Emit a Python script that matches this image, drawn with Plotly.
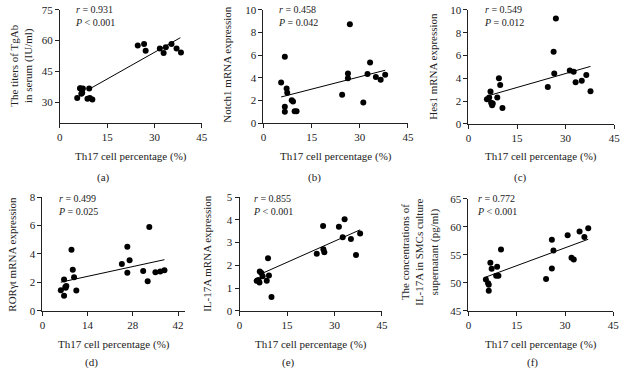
import plotly.graph_objects as go

# ---------------- data ----------------
xa = [5.5, 6.5, 7.3, 6.8, 7.1, 9.3, 8.75, 9.5, 10.3, 6.4, 24.7, 26.7, 27.2, 31.7, 32.9, 33.6, 35.4, 37.0, 38.4]
ya = [32.0, 36.6, 36.6, 34.1, 34.6, 36.6, 31.6, 32.0, 31.3, 36.8, 57.6, 58.4, 55.0, 56.2, 54.0, 56.7, 58.3, 56.2, 54.2]

xb = [5.5, 6.65, 7.2, 7.4, 6.65, 6.65, 8.8, 9.2, 9.7, 10.3, 24.5, 26.3, 26.3, 26.9, 31.1, 32.4, 33.2, 35.0, 36.5, 37.9]
yb = [3.59, 5.87, 3.05, 2.68, 1.45, 1.0, 2.02, 1.91, 1.05, 1.05, 2.5, 4.39, 3.96, 8.72, 1.82, 4.33, 5.36, 4.07, 3.82, 4.27]

xc = [5.7, 6.4, 6.8, 7.0, 7.3, 7.5, 8.9, 9.4, 9.8, 10.5, 24.5, 26.3, 26.5, 27.0, 31.3, 32.5, 33.1, 35.0, 36.4, 37.7]
yc = [2.15, 2.32, 2.83, 1.84, 1.64, 1.78, 2.32, 3.99, 3.40, 1.39, 3.23, 6.32, 4.42, 9.24, 4.67, 4.56, 3.65, 3.77, 4.28, 2.86]

xd = [5.7, 6.7, 6.7, 7.1, 7.4, 7.2, 9.0, 9.4, 9.8, 10.5, 24.6, 26.3, 26.3, 27.0, 31.2, 32.6, 33.1, 35.0, 36.5, 37.8]
yd = [1.45, 1.07, 2.2, 1.68, 1.75, 1.62, 4.29, 2.9, 2.36, 1.43, 3.29, 4.51, 2.68, 3.56, 2.81, 2.09, 5.9, 2.72, 2.77, 2.86]

xe = [5.4, 6.0, 6.3, 6.4, 6.9, 7.3, 8.6, 9.0, 9.3, 10.1, 24.4, 26.4, 26.5, 26.8, 31.4, 32.6, 33.2, 35.2, 36.8, 38.1]
ye = [1.32, 1.36, 1.25, 1.73, 1.67, 1.52, 1.32, 2.31, 1.56, 0.61, 2.51, 3.73, 2.71, 2.58, 3.70, 3.23, 4.02, 3.16, 2.46, 3.40]

xf = [5.4, 6.1, 6.3, 6.3, 6.8, 7.2, 8.6, 8.9, 9.3, 10.1, 24.1, 25.9, 25.9, 26.4, 30.8, 32.0, 32.7, 34.5, 36.0, 37.2]
yf = [50.6, 49.96, 49.7, 48.6, 53.6, 52.55, 51.3, 52.9, 51.3, 55.95, 50.7, 57.7, 52.6, 55.8, 58.5, 54.5, 54.2, 59.2, 58.2, 59.75]

# regression line end points
fit_xa, fit_ya = [9.3, 38.2], [36.3, 61.4]
fit_xb, fit_yb = [5.5, 37.9], [2.31, 4.67]
fit_xc, fit_yc = [6.4, 37.7], [2.49, 5.04]
fit_xd, fit_yd = [5.7, 37.8], [2.02, 3.60]
fit_xe, fit_ye = [6.2, 38.1], [1.59, 3.56]
fit_xf, fit_yf = [5.4, 37.2], [51.05, 57.8]

r_text = ["0.931", "0.458", "0.549", "0.499", "0.855", "0.772"]
p_text = ["&lt; 0.001", "= 0.042", "= 0.012", "= 0.025", "&lt; 0.001", "&lt; 0.001"]
y_titles = [
    "The titers of TgAb<br>in serum (IU/ml)",
    "Notch1 mRNA expression",
    "Hes1 mRNA expression",
    "RORγt mRNA expression",
    "IL-17A mRNA expression",
    "The concentrations of<br>IL-17A in SMCs culture<br>supernatant (pg/ml)",
]
panel_labels = ["(a)", "(b)", "(c)", "(d)", "(e)", "(f)"]
x_title = "Th17 cell percentage (%)"

x_ticks = [[0, 15, 30, 45]] * 3 + [[0, 14, 28, 42], [0, 15, 30, 45], [0, 15, 30, 45]]
y_ticks = [[30, 45, 60, 75], [0, 2, 4, 6, 8, 10], [0, 2, 4, 6, 8, 10],
           [0, 2, 4, 6, 8], [0, 1, 2, 3, 4, 5], [45, 50, 55, 60, 65]]
x_ranges = [[0, 45], [0, 45], [0, 45], [0, 44.2], [0, 45], [0, 45]]
y_ranges = [[20, 75], [0, 10], [0, 10], [0, 8], [0, 5], [45, 65]]

# ---------------- layout geometry (pixels) ----------------
W, H = 623, 376
# plot area boxes: left, right, top, bottom in px
boxes = [
    (57.7, 201.7, 4, 120.4),
    (264.3, 410.9, 4, 121),
    (472.3, 620.1, 4, 121.7),
    (40, 184.8, 197.3, 315),
    (240, 384.5, 197.3, 315),
    (472.3, 619.3, 199.3, 315),
]
ytitle_pos = [(18, 62), (227, 60), (436, 62), (9, 256), (207, 256), (423, 254)]
label_pos = [(102, 177), (316, 177), (525, 177), (90, 368), (290, 368), (537, 368)]
stat_x = [72, 278, 487, 55, 253, 480]
stat_y = [10.5, 10.5, 10.5, 205.5, 205.5, 206]
xtitle_y = [155, 155, 155, 350, 350, 350]

FONT = "Liberation Serif"
xs = [xa, xb, xc, xd, xe, xf]
ys = [ya, yb, yc, yd, ye, yf]
fxs = [fit_xa, fit_xb, fit_xc, fit_xd, fit_xe, fit_xf]
fys = [fit_ya, fit_yb, fit_yc, fit_yd, fit_ye, fit_yf]


def px(x):
    return x / W


def py(y):
    return 1 - y / H


fig = go.Figure()
layout = dict(
    width=W, height=H, margin=dict(l=0, r=0, t=0, b=0),
    paper_bgcolor="white", plot_bgcolor="white", showlegend=False,
    font=dict(family=FONT, size=11, color="#222"),
)
annotations = []
for i in range(6):
    n = "" if i == 0 else str(i + 1)
    L, R, T, B = boxes[i]
    axis_common = dict(showgrid=False, zeroline=False, showline=True, linecolor="#222",
                       linewidth=1, ticks="outside", ticklen=4, tickcolor="#222",
                       tickfont=dict(family=FONT, size=11, color="#222"), fixedrange=True)
    layout["xaxis" + n] = dict(axis_common, domain=[px(L), px(R)], range=x_ranges[i],
                               tickvals=x_ticks[i], anchor="y" + n)
    layout["yaxis" + n] = dict(axis_common, domain=[py(B), py(T)], range=y_ranges[i],
                               tickvals=y_ticks[i], anchor="x" + n)
    fig.add_trace(go.Scatter(x=xs[i], y=ys[i], mode="markers", xaxis="x" + n, yaxis="y" + n,
                             marker=dict(color="black", size=6), cliponaxis=False))
    fig.add_trace(go.Scatter(x=fxs[i], y=fys[i], mode="lines", xaxis="x" + n, yaxis="y" + n,
                             line=dict(color="black", width=1)))
    # texts
    tx, ty = ytitle_pos[i]
    annotations.append(dict(text=y_titles[i], x=px(tx), y=py(ty), xref="paper", yref="paper",
                            textangle=-90, showarrow=False, xanchor="center", yanchor="middle",
                            font=dict(family=FONT, size=11, color="#222")))
    annotations.append(dict(text=x_title, x=px((L + R) / 2), y=py(xtitle_y[i]), xref="paper",
                            yref="paper", showarrow=False, xanchor="center", yanchor="middle",
                            font=dict(family=FONT, size=11, color="#222")))
    lx, ly = label_pos[i]
    annotations.append(dict(text=panel_labels[i], x=px(lx), y=py(ly), xref="paper", yref="paper",
                            showarrow=False, xanchor="center", yanchor="middle",
                            font=dict(family=FONT, size=11, color="#222")))
    annotations.append(dict(text="<i>r</i> = " + r_text[i] + "<br><i>P</i> " + p_text[i],
                            x=px(stat_x[i]), y=py(stat_y[i]), xref="paper", yref="paper",
                            showarrow=False, xanchor="left", yanchor="middle", align="left",
                            borderpad=0, font=dict(family=FONT, size=10, color="#222")))

layout["annotations"] = annotations
fig.update_layout(**layout)
fig.write_html("out.html", config={"displayModeBar": False},
               post_script="document.body.style.margin='0px';document.body.style.overflow='hidden';")
